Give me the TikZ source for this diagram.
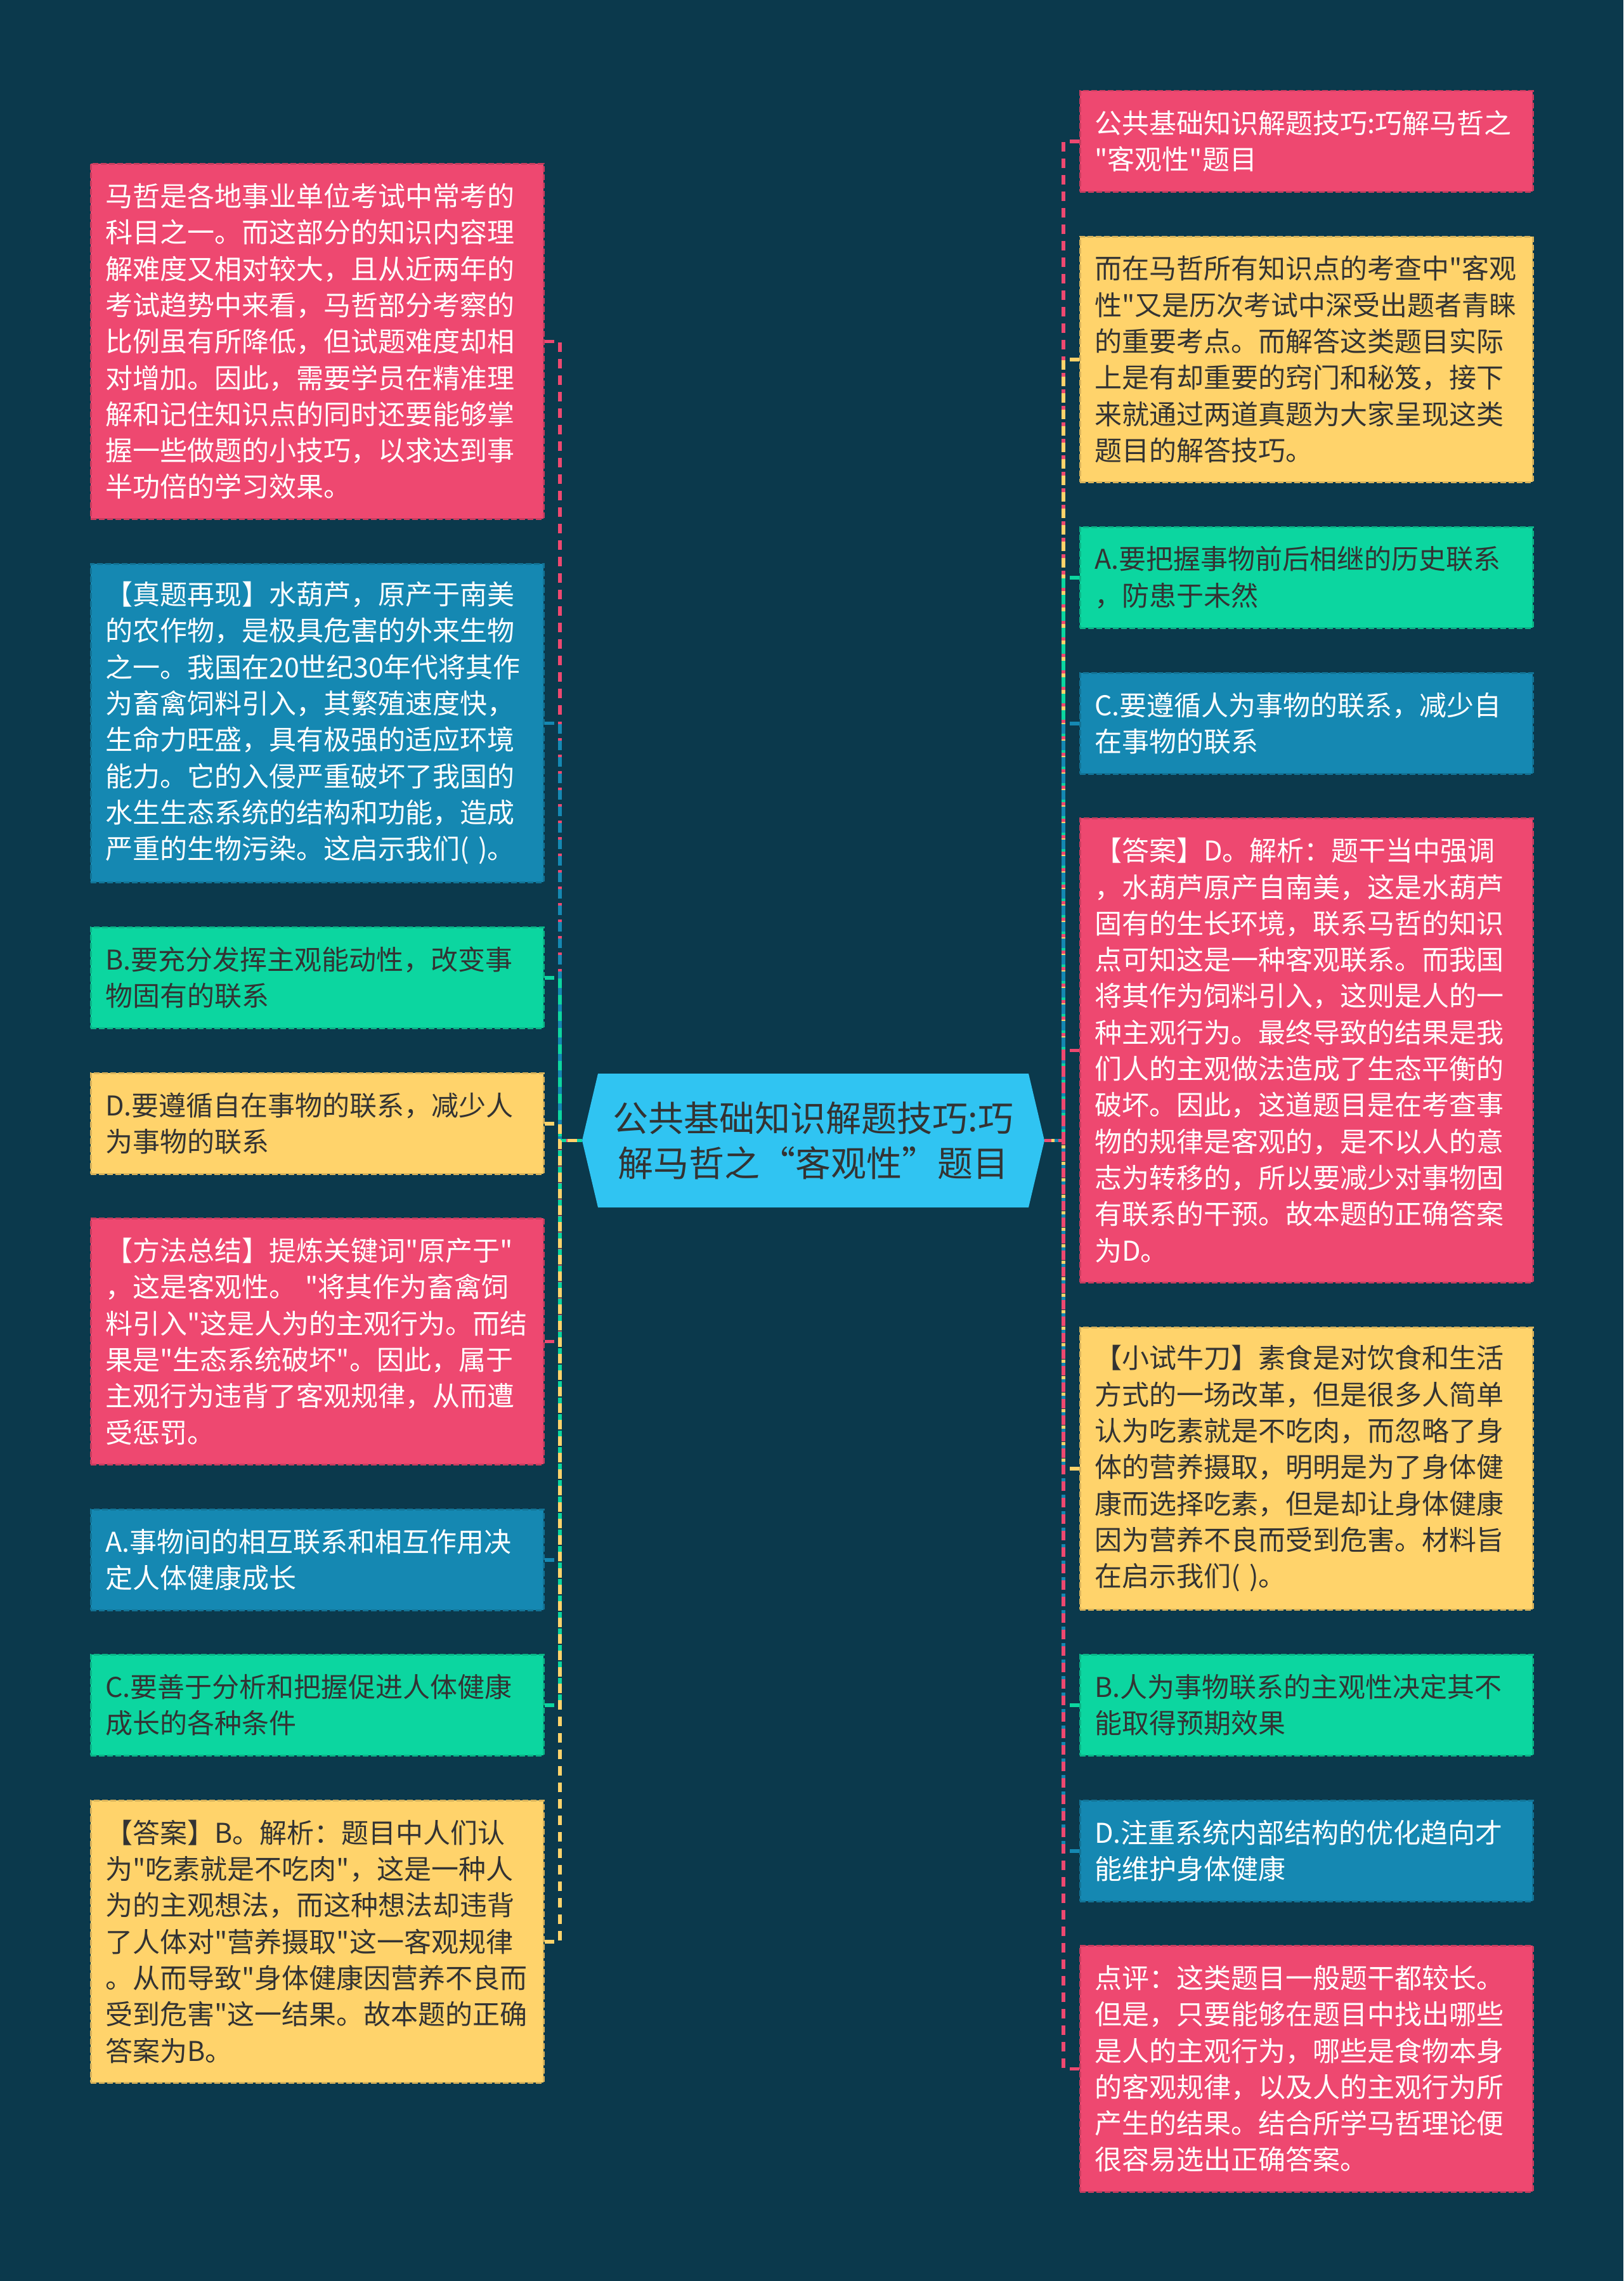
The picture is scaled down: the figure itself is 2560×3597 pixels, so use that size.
\documentclass[tikz,border=0pt]{standalone}
\usepackage{fontspec}
\newfontfamily\cjk[Ligatures=TeXOff]{Noto Sans CJK SC}
\definecolor{bgc}{HTML}{0B394C}
\definecolor{pinkc}{HTML}{EE4870}
\definecolor{yellowc}{HTML}{FFD36B}
\definecolor{greenc}{HTML}{0CD6A0}
\definecolor{bluec}{HTML}{1588B2}
\definecolor{rootc}{HTML}{30C4F2}
\definecolor{inkc}{HTML}{333333}
\begin{document}
\begin{tikzpicture}[x=1pt,y=-1pt]
  \tikzstyle{card}=[anchor=north west,text width=668pt,inner xsep=23pt,inner ysep=0pt,align=left,
    font=\cjk\fontsize{43}{57.3}\selectfont,line width=2.5pt,dash pattern=on 9pt off 4pt]
  \tikzstyle{pinkcard}=[card,fill=pinkc,draw=pinkc!85!black,text=white]
  \tikzstyle{yellowcard}=[card,fill=yellowc,draw=yellowc!85!black,text=inkc]
  \tikzstyle{greencard}=[card,fill=greenc,draw=greenc!85!black,text=inkc]
  \tikzstyle{bluecard}=[card,fill=bluec,draw=bluec!85!black,text=white]
  \tikzstyle{rootbox}=[inner sep=0pt,minimum width=729pt,minimum height=211pt,align=center,text=inkc,
    font=\cjk\fontsize{56}{71}\selectfont]
  \tikzstyle{link}=[line width=5.5pt,dash pattern=on 15pt off 11pt]
  \useasboundingbox (0,0) rectangle (2560,3597);
  \fill[bgc] (0,0) rectangle (2560,3597);

  % centre
  \fill[rootc] (943,1693) -- (1622,1693) -- (1647,1798.5) -- (1622,1904) -- (943,1904) -- (918,1798.5) -- cycle;
  \node[rootbox] (root) at (1282.5,1798.5) {公共基础知识解题技巧:巧\\解马哲之“客观性”题目};
  \coordinate (lj) at (883,1798.5);
  \coordinate (rj) at (1677,1798.5);

  % left side
  \node[pinkcard,minimum height=560pt] (l1) at (142,257) {马哲是各地事业单位考试中常考的\\科目之一。而这部分的知识内容理\\解难度又相对较大，且从近两年的\\考试趋势中来看，马哲部分考察的\\比例虽有所降低，但试题难度却相\\对增加。因此，需要学员在精准理\\解和记住知识点的同时还要能够掌\\握一些做题的小技巧，以求达到事\\半功倍的学习效果。};
  \node[bluecard,minimum height=502pt] (l2) at (142,888) {【真题再现】水葫芦，原产于南美\\的农作物，是极具危害的外来生物\\之一。我国在20世纪30年代将其作\\为畜禽饲料引入，其繁殖速度快，\\生命力旺盛，具有极强的适应环境\\能力。它的入侵严重破坏了我国的\\水生生态系统的结构和功能，造成\\严重的生物污染。这启示我们( )。};
  \node[greencard,minimum height=159pt] (l3) at (142,1461) {B.要充分发挥主观能动性，改变事\\物固有的联系};
  \node[yellowcard,minimum height=159pt] (l4) at (142,1691) {D.要遵循自在事物的联系，减少人\\为事物的联系};
  \node[pinkcard,minimum height=388pt] (l5) at (142,1920) {【方法总结】提炼关键词"原产于"\\，这是客观性。 "将其作为畜禽饲\\料引入"这是人为的主观行为。而结\\果是"生态系统破坏"。因此，属于\\主观行为违背了客观规律，从而遭\\受惩罚。};
  \node[bluecard,minimum height=159pt] (l6) at (142,2379) {A.事物间的相互联系和相互作用决\\定人体健康成长};
  \node[greencard,minimum height=159pt] (l7) at (142,2608) {C.要善于分析和把握促进人体健康\\成长的各种条件};
  \node[yellowcard,minimum height=445pt] (l8) at (142,2838) {【答案】B。解析：题目中人们认\\为"吃素就是不吃肉"，这是一种人\\为的主观想法，而这种想法却违背\\了人体对"营养摄取"这一客观规律\\。从而导致"身体健康因营养不良而\\受到危害"这一结果。故本题的正确\\答案为B。};

  % right side
  \node[pinkcard,minimum height=159pt] (r1) at (1702,142) {公共基础知识解题技巧:巧解马哲之\\"客观性"题目};
  \node[yellowcard,minimum height=387pt] (r2) at (1702,372) {而在马哲所有知识点的考查中"客观\\性"又是历次考试中深受出题者青睐\\的重要考点。而解答这类题目实际\\上是有却重要的窍门和秘笈，接下\\来就通过两道真题为大家呈现这类\\题目的解答技巧。};
  \node[greencard,minimum height=159pt] (r3) at (1702,830) {A.要把握事物前后相继的历史联系\\，防患于未然};
  \node[bluecard,minimum height=159pt] (r4) at (1702,1060) {C.要遵循人为事物的联系，减少自\\在事物的联系};
  \node[pinkcard,minimum height=732pt] (r5) at (1702,1289) {【答案】D。解析：题干当中强调\\，水葫芦原产自南美，这是水葫芦\\固有的生长环境，联系马哲的知识\\点可知这是一种客观联系。而我国\\将其作为饲料引入，这则是人的一\\种主观行为。最终导致的结果是我\\们人的主观做法造成了生态平衡的\\破坏。因此，这道题目是在考查事\\物的规律是客观的，是不以人的意\\志为转移的，所以要减少对事物固\\有联系的干预。故本题的正确答案\\为D。};
  \node[yellowcard,minimum height=445pt] (r6) at (1702,2092) {【小试牛刀】素食是对饮食和生活\\方式的一场改革，但是很多人简单\\认为吃素就是不吃肉，而忽略了身\\体的营养摄取，明明是为了身体健\\康而选择吃素，但是却让身体健康\\因为营养不良而受到危害。材料旨\\在启示我们( )。};
  \node[greencard,minimum height=159pt] (r7) at (1702,2608) {B.人为事物联系的主观性决定其不\\能取得预期效果};
  \node[bluecard,minimum height=159pt] (r8) at (1702,2838) {D.注重系统内部结构的优化趋向才\\能维护身体健康};
  \node[pinkcard,minimum height=388pt] (r9) at (1702,3067) {点评：这类题目一般题干都较长。\\但是，只要能够在题目中找出哪些\\是人的主观行为，哪些是食物本身\\的客观规律，以及人的主观行为所\\产生的结果。结合所学马哲理论便\\很容易选出正确答案。};

  % links
  \foreach \n/\c in {l1/pinkc,l2/bluec,l3/greenc,l4/yellowc,l5/pinkc,l6/bluec,l7/greenc,l8/yellowc}
    \draw[link,draw=\c] (\n.east) -| (lj) -- (root.west);
  \foreach \n/\c in {r1/pinkc,r2/yellowc,r3/greenc,r4/bluec,r5/pinkc,r6/yellowc,r7/greenc,r8/bluec,r9/pinkc}
    \draw[link,draw=\c] (\n.west) -| (rj) -- (root.east);
\end{tikzpicture}
\end{document}
